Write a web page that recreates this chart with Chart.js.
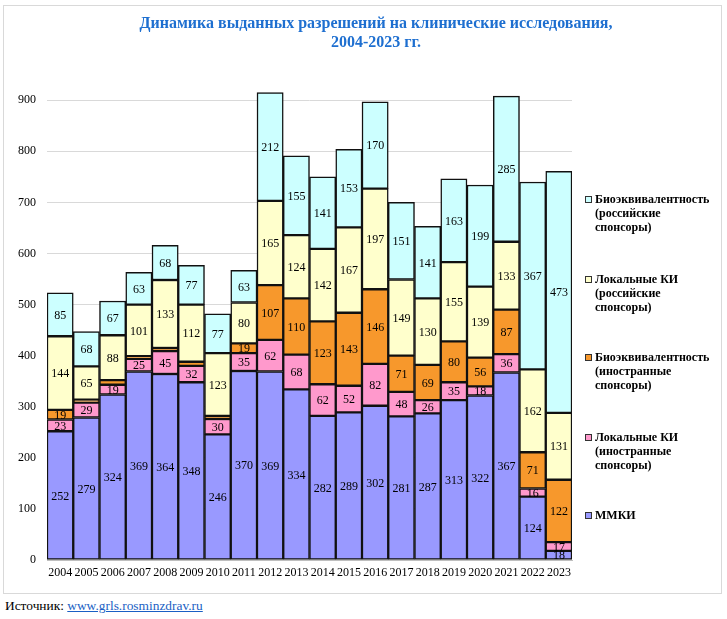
<!DOCTYPE html>
<html>
<head>
<meta charset="utf-8">
<script src="https://cdn.jsdelivr.net/npm/chart.js@4"></script>
<style>
  body { margin: 0; background: #fff; font-family: "Liberation Serif", "Times New Roman", serif; }
  #frame { position: absolute; left: 3px; top: 5px; width: 717px; height: 587px; border: 1px solid #d9d9d9; }
  #chart { position: absolute; left: 0; top: 0; }
  #title { position: absolute; left: 0; top: 7px; width: 744px; text-align: center; color: #1e6fd0;
           font-weight: bold; font-size: 16px; line-height: 19px; }
  #legend { position: absolute; left: 581px; top: 0; }
  .leg-item { position: absolute; left: 0; width: 130px; font-weight: bold; font-size: 12px; line-height: 14px; color: #000; padding-left: 10px; }
  .leg-box { position: absolute; left: 0; top: 4px; width: 5px; height: 5px; border: 1px solid #333; }
  #source { position: absolute; left: 5px; top: 598px; font-size: 13.4px; color: #000; }
  #source a { color: #1a5fc4; }
</style>
</head>
<body>
<div id="frame">
  <canvas id="chart" width="717" height="587"></canvas>
  <div id="title">Динамика выданных разрешений на клинические исследования,<br>2004-2023 гг.</div>
  <div id="legend"></div>
</div>
<div id="source">Источник: <a href="#">www.grls.rosminzdrav.ru</a></div>
<script>
// Data
const years = ['2004','2005','2006','2007','2008','2009','2010','2011','2012','2013',
               '2014','2015','2016','2017','2018','2019','2020','2021','2022','2023'];
const mmki          = [252, 279, 324, 369, 364, 348, 246, 370, 369, 334, 282, 289, 302, 281, 287, 313, 322, 367, 124, 18];
const localForeign  = [23, 29, 19, 25, 45, 32, 30, 35, 62, 68, 62, 52, 82, 48, 26, 35, 18, 36, 16, 17];
const bioForeign    = [19, 6, 9, 5, 6, 8, 6, 19, 107, 110, 123, 143, 146, 71, 69, 80, 56, 87, 71, 122];
const localRussian  = [144, 65, 88, 101, 133, 112, 123, 80, 165, 124, 142, 167, 197, 149, 130, 155, 139, 133, 162, 131];
const bioRussian    = [85, 68, 67, 63, 68, 77, 77, 63, 212, 155, 141, 153, 170, 151, 141, 163, 199, 285, 367, 473];
const yTicks = [0, 100, 200, 300, 400, 500, 600, 700, 800, 900];

const series = [
    { label: 'ММКИ', data: mmki, color: '#9999ff' },
    { label: 'Локальные КИ\n(иностранные\nспонсоры)', data: localForeign, color: '#ff99cc' },
    { label: 'Биоэквивалентность\n(иностранные\nспонсоры)', data: bioForeign, color: '#f7982c' },
    { label: 'Локальные КИ\n(российские\nспонсоры)', data: localRussian, color: '#ffffcc' },
    { label: 'Биоэквивалентность\n(российские\nспонсоры)', data: bioRussian, color: '#ccffff' }
];

// Value labels in the middle of each segment
const segmentLabels = {
    id: 'segmentLabels',
    afterDatasetsDraw(chart) {
        const ctx = chart.ctx;
        ctx.save();
        ctx.font = '12px "Liberation Serif", serif';
        ctx.fillStyle = '#000';
        ctx.textAlign = 'center';
        ctx.textBaseline = 'middle';
        chart.data.datasets.forEach((ds, i) => {
            chart.getDatasetMeta(i).data.forEach((bar, j) => {
                const v = ds.data[j];
                if (v < 10) return; // too thin to label
                ctx.fillText(String(v), bar.x, (bar.y + bar.base) / 2 + 1);
            });
        });
        ctx.restore();
    }
};

new Chart(document.getElementById('chart'), {
    type: 'bar',
    data: {
        labels: years,
        datasets: series.map(s => ({
            label: s.label,
            data: s.data,
            backgroundColor: s.color,
            borderColor: '#111',
            borderWidth: 1.5,
            borderSkipped: false,
            barPercentage: 1,
            categoryPercentage: 1
        }))
    },
    options: {
        responsive: false,
        animation: false,
        layout: { padding: { top: 84, right: 149, left: 0, bottom: 0 } },
        plugins: {
            legend: { display: false },
            tooltip: { enabled: false }
        },
        scales: {
            x: {
                stacked: true,
                grid: { display: false, drawTicks: false },
                border: { display: true, color: '#bfbfbf', width: 1 },
                ticks: { color: '#000', padding: 6, maxRotation: 0, autoSkip: false,
                         font: { family: '"Liberation Serif", serif', size: 12 } },
                afterFit(scale) { scale.height = 33; }
            },
            y: {
                stacked: true,
                min: 0,
                max: 920,
                grid: { color: '#d9d9d9', drawTicks: false },
                border: { display: false },
                ticks: { color: '#000', padding: 11,
                         font: { family: '"Liberation Serif", serif', size: 12 } },
                afterBuildTicks(scale) { scale.ticks = yTicks.map(v => ({ value: v })); },
                afterFit(scale) { scale.width = 43; }
            }
        }
    },
    plugins: [segmentLabels]
});

// Legend, top item = top of stack
const legendTops = [186, 266, 344, 424, 502];
const legend = document.getElementById('legend');
series.slice().reverse().forEach((s, i) => {
    const item = document.createElement('div');
    item.className = 'leg-item';
    item.style.top = legendTops[i] + 'px';
    const box = document.createElement('span');
    box.className = 'leg-box';
    box.style.background = s.color;
    item.appendChild(box);
    s.label.split('\n').forEach((line, k) => {
        if (k) item.appendChild(document.createElement('br'));
        item.appendChild(document.createTextNode(line));
    });
    legend.appendChild(item);
});
</script>
</body>
</html>
